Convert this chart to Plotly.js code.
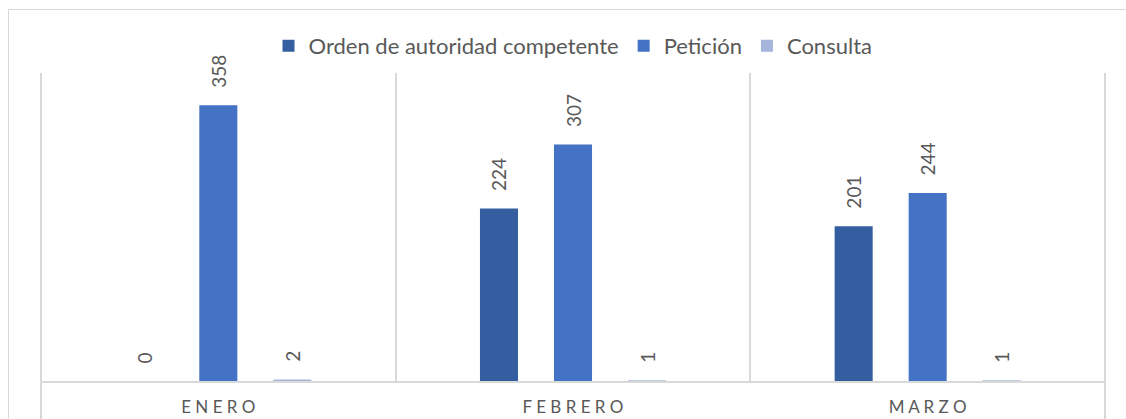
<!DOCTYPE html>
<html>
<head>
<meta charset="utf-8">
<script src="https://cdn.plot.ly/plotly-3.0.1.min.js"></script>
<style>
  html, body { margin: 0; padding: 0; background: #ffffff; overflow: hidden; }
  #wrap { position: relative; width: 1126px; height: 419px; overflow: hidden; }
  #frame { position: absolute; left: 8px; top: 9px; width: 3000px; height: 3000px;
           border: 1.5px solid #d9d9d9; box-sizing: border-box; pointer-events: none; z-index: 2; }
  #chart { position: absolute; left: 0; top: 0; width: 1126px; height: 419px; }
</style>
</head>
<body>
<div id="wrap">
  <div id="chart"></div>
  <div id="frame"></div>
</div>
<script>
// ---- data ----
const categories = ['ENERO', 'FEBRERO', 'MARZO'];
const seriesNames = ['Orden de autoridad competente', 'Petición', 'Consulta'];
const ordenValues = [0, 224, 201];
const peticionValues = [358, 307, 244];
const consultaValues = [2, 1, 1];
const seriesColors = ['#355ea1', '#4472c4', '#a6b5db'];

const tickLabels = categories.map(c => c.split('').join(' '));
const labelFont = { family: 'Lato, "Noto Sans", sans-serif', size: 19, color: '#595959' };
const pad = '\u00a0\u00a0\u00a0';

function barTrace(name, values, color) {
  return {
    type: 'bar',
    name: name,
    x: categories,
    y: values,
    marker: { color: color, line: { width: 0 } },
    text: values.map(v => pad + v),
    textposition: 'outside',
    textangle: -90,
    constraintext: 'none',
    cliponaxis: false,
    outsidetextfont: labelFont,
    hoverinfo: 'x+y+name'
  };
}

const data = [
  barTrace(seriesNames[0], ordenValues, seriesColors[0]),
  barTrace(seriesNames[1], peticionValues, seriesColors[1]),
  barTrace(seriesNames[2], consultaValues, seriesColors[2])
];

const layout = {
  width: 1126,
  height: 419,
  margin: { l: 41, r: 21, t: 73, b: 38, pad: 0 },
  paper_bgcolor: 'rgba(0,0,0,0)',
  plot_bgcolor: 'rgba(0,0,0,0)',
  barmode: 'group',
  bargap: 0.374,
  bargroupgap: 0.486,
  showlegend: true,
  legend: {
    orientation: 'h',
    x: 0.5, xanchor: 'center',
    y: 1.088, yanchor: 'middle',
    font: { family: 'Lato, "Noto Sans", sans-serif', size: 22, color: '#595959' },
    itemsizing: 'constant',
    traceorder: 'normal'
  },
  xaxis: {
    type: 'category',
    tickmode: 'array',
    tickvals: categories,
    ticktext: tickLabels,
    tickson: 'boundaries',
    ticks: '',
    showgrid: true,
    gridcolor: '#d9d9d9',
    gridwidth: 2,
    showline: true,
    linecolor: '#d9d9d9',
    linewidth: 2,
    zeroline: false,
    ticklabelstandoff: 10,
    tickfont: { family: 'Lato, "Noto Sans", sans-serif', size: 17, color: '#595959' },
    fixedrange: true
  },
  yaxis: {
    range: [0, 400],
    showgrid: false,
    zeroline: false,
    showline: false,
    showticklabels: false,
    ticks: '',
    fixedrange: true
  },
  shapes: [
    { type: 'line', xref: 'paper', yref: 'paper', x0: 0, x1: 0, y0: -0.3, y1: 1,
      line: { color: '#d9d9d9', width: 2 }, layer: 'below' },
    { type: 'line', xref: 'paper', yref: 'paper', x0: 1, x1: 1, y0: -0.3, y1: 1,
      line: { color: '#d9d9d9', width: 2 }, layer: 'below' }
  ]
};

Plotly.newPlot('chart', data, layout, { displayModeBar: false, staticPlot: true });
</script>
</body>
</html>
